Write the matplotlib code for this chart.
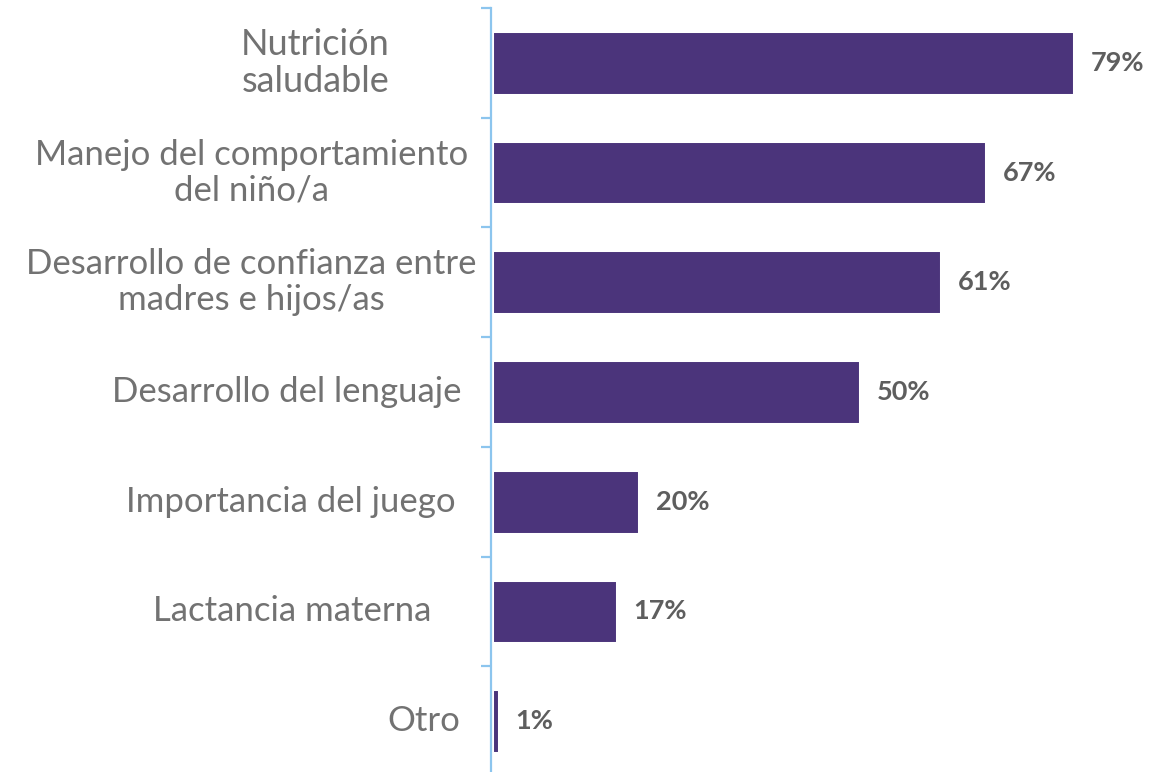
import matplotlib
matplotlib.use("Agg")
import matplotlib.pyplot as plt
from matplotlib.transforms import blended_transform_factory

categories = [
    "Nutrición\nsaludable",
    "Manejo del comportamiento\ndel niño/a",
    "Desarrollo de confianza entre\nmadres e hijos/as",
    "Desarrollo del lenguaje",
    "Importancia del juego",
    "Lactancia materna",
    "Otro",
]
values = [79, 67, 61, 50, 20, 17, 1]
value_labels = ["79%", "67%", "61%", "50%", "20%", "17%", "1%"]

# right edge (figure pixels) of each category label block
label_right_px = [390, 468, 477, 461, 456, 431, 460]
label_sizes = [26, 25, 25, 25, 25, 25, 25]

W, H = 1173, 772
fig = plt.figure(figsize=(W / 100, H / 100), dpi=100)
ax = fig.add_axes([491 / W, -4 / H, (W - 491) / W, 768 / H])

bar_color = "#4B347B"
axis_color = "#8CC5EE"
label_color = "#727272"
value_color = "#5E5E5E"

n = len(categories)
pos = list(range(n))
ax.barh(pos, values, height=0.58, color=bar_color, left=0,
        edgecolor="white", linewidth=2.2)
ax.set_xlim(-0.1, 92.4)
ax.set_ylim(n - 0.5, -0.5)

for s in ["top", "right", "bottom"]:
    ax.spines[s].set_visible(False)
ax.spines["left"].set_position(("data", -0.1))
ax.spines["left"].set_color(axis_color)
ax.spines["left"].set_linewidth(1.6)
ax.spines["left"].set_zorder(3)
ax.set_xticks([])
ax.set_yticks([i - 0.5 for i in range(n + 1)])
ax.set_yticklabels([])
ax.tick_params(axis="y", length=7, width=1.6, color=axis_color, direction="out")

for i, (v, lab) in enumerate(zip(values, value_labels)):
    ax.annotate(lab, xy=(v, i), xytext=(12, 0), textcoords="offset points",
                ha="left", va="center", fontsize=19.5, fontweight="bold",
                color=value_color, family="Lato")

trans = blended_transform_factory(fig.transFigure, ax.transData)
for i, (cat, xr, fs) in enumerate(zip(categories, label_right_px, label_sizes)):
    fig.text(xr / W, i, cat, transform=trans, ha="right", va="center",
             multialignment="center", fontsize=fs, color=label_color,
             family="Lato", linespacing=1.15)

fig.savefig("out.png", dpi=100, facecolor="white")
